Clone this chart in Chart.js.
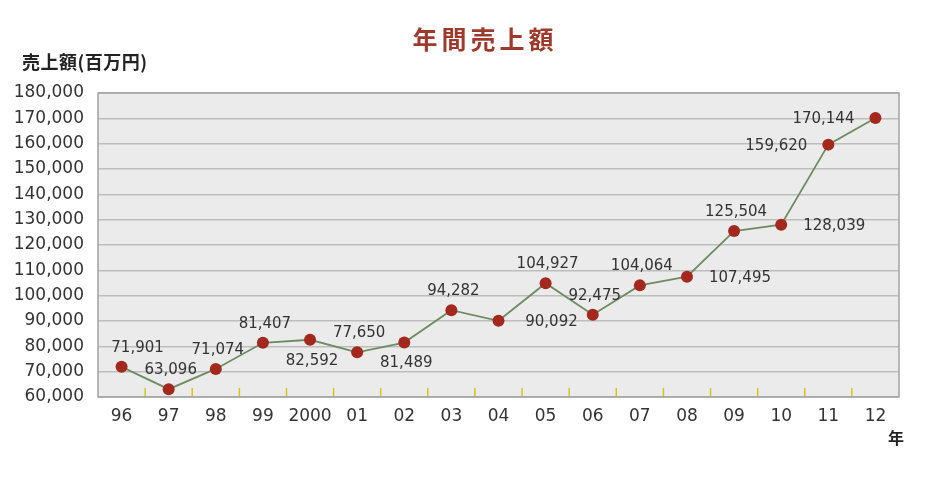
<!DOCTYPE html>
<html>
<head>
<meta charset="utf-8">
<script src="https://cdn.jsdelivr.net/npm/chart.js@4"></script>
<style>
  html, body { margin: 0; padding: 0; background: #ffffff; }
  #wrap { width: 934px; height: 477px; }
</style>
</head>
<body>
<div id="wrap"><canvas id="c" width="934" height="477"></canvas></div>
<script>
// ---- data ----
const categories = ['96','97','98','99','2000','01','02','03','04','05','06','07','08','09','10','11','12'];
const sales = [71901, 63096, 71074, 81407, 82592, 77650, 81489, 94282, 90092, 104927, 92475, 104064, 107495, 125504, 128039, 159620, 170144];
const yTicks = [60000, 70000, 80000, 90000, 100000, 110000, 120000, 130000, 140000, 150000, 160000, 170000, 180000];
const chartTitle = '年間売上額';
const yAxisTitle = '売上額(百万円)';
const xAxisUnit = '年';

// label placement per point (style only)
const labelPlace = ['ur','up','up','up','down','up','down','up','right','up','up','up','right','up','right','left','left'];

const FONT = '"DejaVu Sans", Verdana, sans-serif';
const CJK = '"Noto Sans CJK JP", "Noto Sans", sans-serif';

const decorPlugin = {
  id: 'decor',
  beforeDraw(chart) {
    const { ctx, chartArea: a } = chart;
    ctx.save();
    ctx.fillStyle = '#ebebeb';
    ctx.fillRect(a.left, a.top, a.right - a.left, a.bottom - a.top);
    ctx.restore();
  },
  beforeDatasetsDraw(chart) {
    const { ctx, chartArea: a, scales } = chart;
    const x = scales.x;
    ctx.save();
    ctx.strokeStyle = '#a3a3a3';
    ctx.lineWidth = 1.5;
    ctx.strokeRect(a.left, a.top, a.right - a.left, a.bottom - a.top);
    ctx.strokeStyle = '#d9c21a';
    ctx.lineWidth = 1.5;
    for (let i = 0; i < categories.length - 1; i++) {
      const px = (x.getPixelForValue(i) + x.getPixelForValue(i + 1)) / 2;
      ctx.beginPath();
      ctx.moveTo(px, a.bottom - 1);
      ctx.lineTo(px, a.bottom - 9);
      ctx.stroke();
    }
    ctx.restore();
  },
  afterDraw(chart) {
    const { ctx } = chart;
    const meta = chart.getDatasetMeta(0);
    ctx.save();
    ctx.fillStyle = '#333333';
    ctx.font = '15px ' + FONT;
    ctx.textBaseline = 'middle';
    ctx.textAlign = 'center';
    meta.data.forEach((pt, i) => {
      const txt = sales[i].toLocaleString('en-US');
      let dx = 0, dy = -19;
      switch (labelPlace[i]) {
        case 'ur': dx = 16; dy = -19; break;
        case 'up': dx = 2; dy = -19; break;
        case 'down': dx = 2; dy = 21; break;
        case 'right': dx = 53; dy = 1; break;
        case 'left': dx = -52; dy = 1; break;
      }
      ctx.fillText(txt, pt.x + dx, pt.y + dy);
    });
    ctx.fillStyle = '#9e3a2b';
    ctx.font = 'bold 25px ' + CJK;
    ctx.textAlign = 'center';
    if ('letterSpacing' in ctx) ctx.letterSpacing = '4px';
    ctx.fillText(chartTitle, 485, 39);
    if ('letterSpacing' in ctx) ctx.letterSpacing = '0px';
    ctx.fillStyle = '#222222';
    ctx.font = 'bold 18px ' + CJK;
    ctx.textAlign = 'left';
    if ('letterSpacing' in ctx) ctx.letterSpacing = '0.5px';
    ctx.fillText(yAxisTitle, 22, 62);
    if ('letterSpacing' in ctx) ctx.letterSpacing = '0px';
    ctx.font = 'bold 16px ' + CJK;
    ctx.textAlign = 'center';
    ctx.fillText(xAxisUnit, 896, 438);
    ctx.restore();
  }
};

new Chart(document.getElementById('c'), {
  type: 'line',
  data: {
    labels: categories,
    datasets: [{
      data: sales,
      borderColor: '#6e8c62',
      borderWidth: 1.8,
      pointBackgroundColor: '#a3281d',
      pointBorderColor: '#a3281d',
      pointRadius: 6,
      pointBorderWidth: 0,
      tension: 0,
      clip: false
    }]
  },
  options: {
    responsive: false,
    animation: false,
    events: [],
    layout: { padding: { left: 0, right: 35, top: 93, bottom: 0 } },
    plugins: { legend: { display: false }, tooltip: { enabled: false }, title: { display: false } },
    scales: {
      x: {
        type: 'category',
        offset: true,
        grid: { display: false, drawTicks: false },
        border: { display: false },
        ticks: { color: '#333333', font: { family: FONT, size: 17 }, padding: 9, maxRotation: 0, autoSkip: false },
        afterFit(s) { s.height = 80; }
      },
      y: {
        min: 60000,
        max: 180000,
        afterBuildTicks(s) { s.ticks = yTicks.map(v => ({ value: v })); },
        grid: { color: '#bdbdbd', lineWidth: 1.5, drawTicks: false },
        border: { display: false },
        ticks: {
          color: '#333333',
          font: { family: FONT, size: 17 },
          padding: 14,
          callback: v => v.toLocaleString('en-US')
        },
        afterFit(s) { s.width = 98; }
      }
    }
  },
  plugins: [decorPlugin]
});
</script>
</body>
</html>
